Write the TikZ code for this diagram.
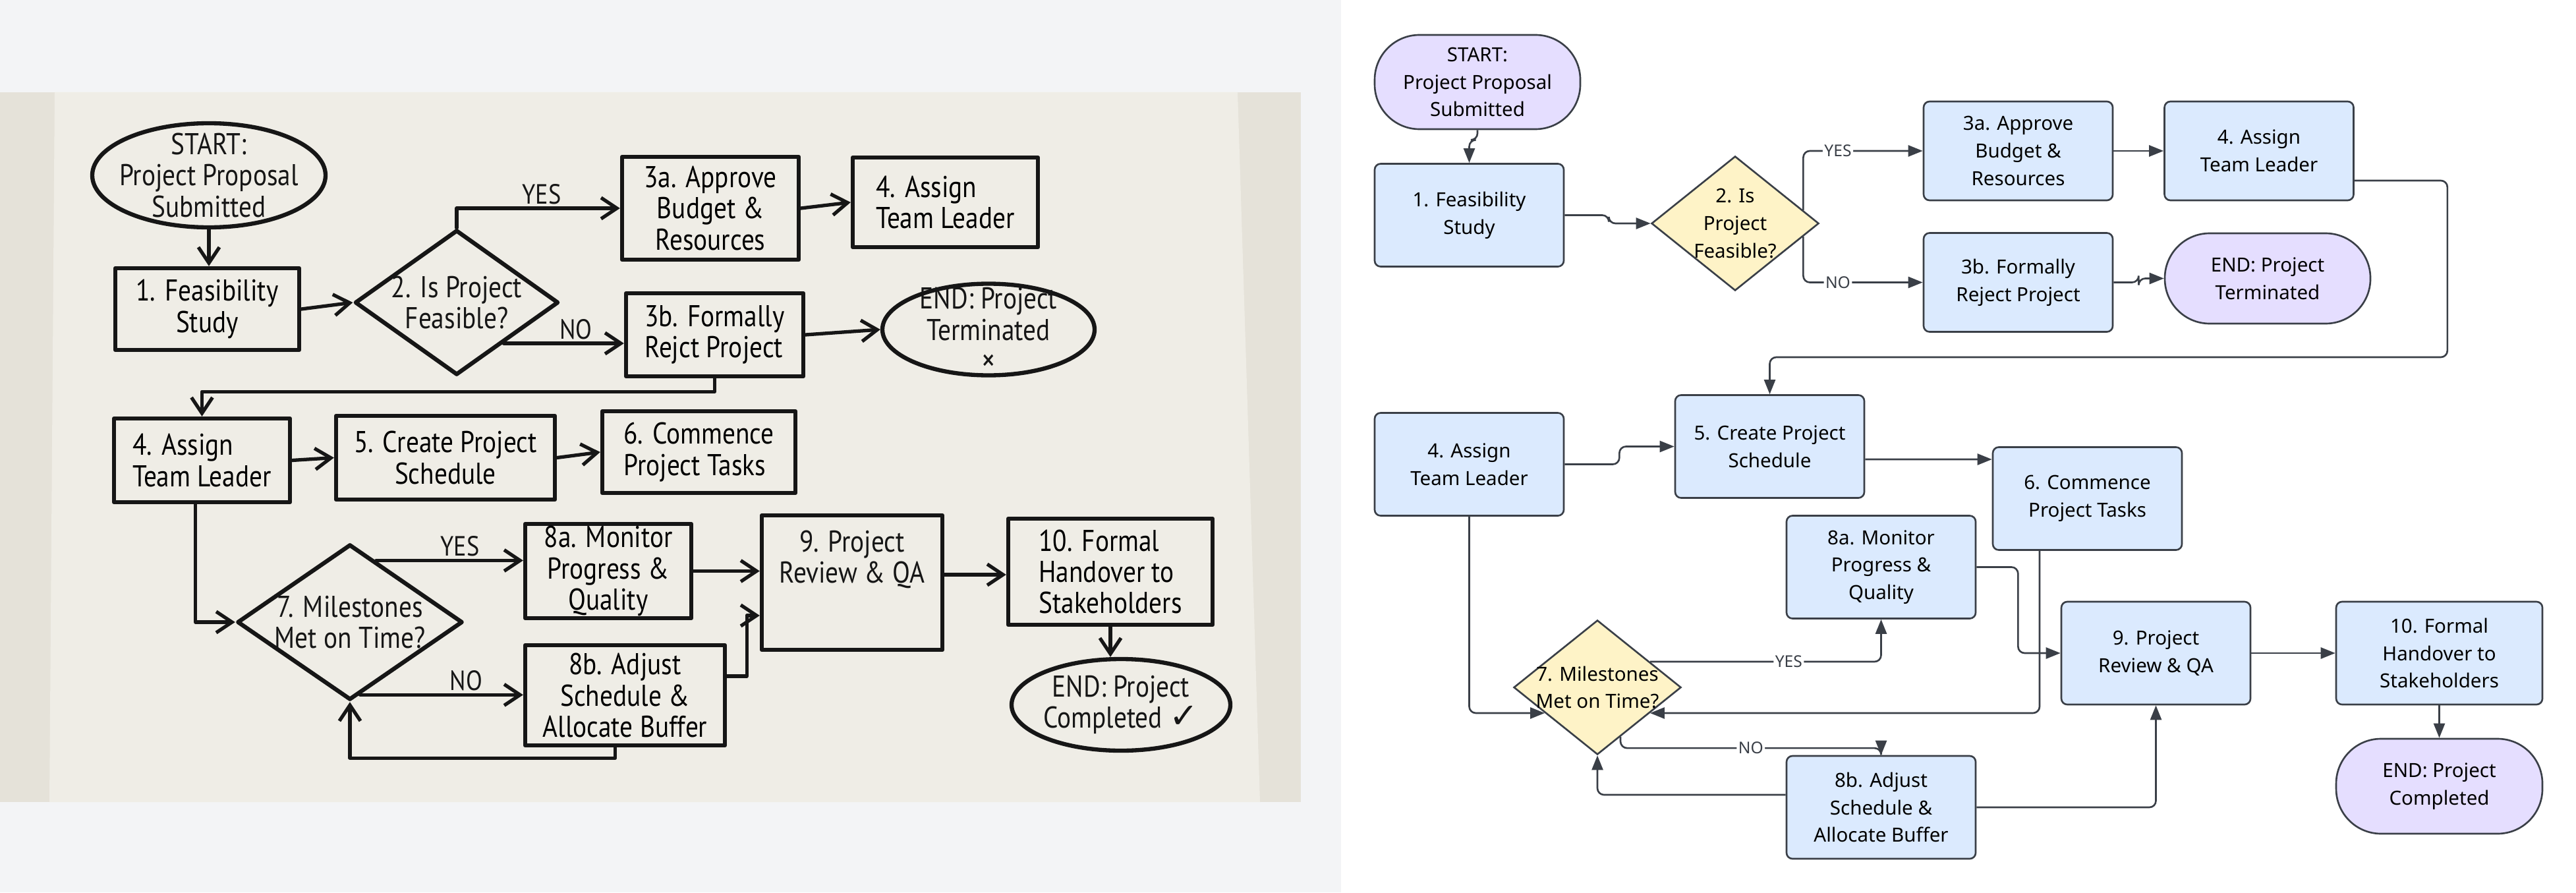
\documentclass[tikz,border=0pt]{standalone}
\usepackage{fontspec}
\setmainfont{Noto Sans}
\newfontfamily\handfont[FakeStretch=0.86]{PT Sans}
\newfontfamily\symfont{DejaVu Sans}
\usepackage{xcolor}
\usetikzlibrary{arrows.meta,positioning,shapes.geometric,shapes.misc,calc}

\definecolor{panelgrey}{RGB}{243,244,246}
\definecolor{tablebg}{RGB}{229,226,217}
\definecolor{paper}{RGB}{239,237,230}
\definecolor{ink}{RGB}{22,22,22}
\definecolor{boxblue}{RGB}{219,234,254}
\definecolor{lilac}{RGB}{229,222,255}
\definecolor{decyellow}{RGB}{254,243,199}
\definecolor{edgegrey}{RGB}{58,63,71}

\begin{document}
\begin{tikzpicture}[
  >={Triangle[length=2.2mm,width=1.7mm]},
  proc/.style={draw=edgegrey,line width=0.75pt,rectangle,rounded corners=0.9mm,fill=boxblue,
    minimum width=2.87cm,minimum height=1.56cm,align=center,inner sep=1mm,
    font=\fontsize{8.4}{11.9}\selectfont},
  stadium/.style={proc,rounded corners=0.68cm,fill=lilac,minimum width=3.12cm,minimum height=1.43cm},
  decision/.style={draw=edgegrey,line width=0.75pt,diamond,fill=decyellow,inner sep=0pt,
    minimum width=2.54cm,minimum height=2.04cm},
  dlab/.style={align=center,inner sep=0pt,font=\fontsize{8.4}{11.9}\selectfont},
  conn/.style={->,draw=edgegrey,line width=0.75pt,rounded corners=1mm},
  tag/.style={fill=white,inner sep=0.7pt,text=edgegrey,font=\fontsize{7}{7}\selectfont\bfseries},
  hbox/.style={draw=ink,line width=1.8pt,line join=round,rectangle,align=center,inner sep=0pt,
    font=\handfont\fontsize{13}{13.5}\selectfont},
  hoval/.style={hbox,ellipse},
  hdiam/.style={hbox,diamond},
  hlab/.style={align=center,inner sep=0pt,text=ink,font=\handfont\fontsize{13}{13.5}\selectfont},
  htag/.style={text=ink,inner sep=1pt,font=\handfont\fontsize{12}{12}\selectfont},
  hconn/.style={draw=ink,line width=1.5pt,line cap=round,line join=round,
    -{Straight Barb[length=2.4mm,width=3.2mm]}}]

\useasboundingbox (0,0) rectangle (39.09,-13.54);

% backdrop: grey panel, photo of the sheet, white panel
\fill[panelgrey] (0,0) rectangle (20.35,-13.54);
\fill[tablebg] (0,-1.40) rectangle (19.74,-12.17);
\fill[paper] (0.83,-1.40) -- (18.78,-1.40) -- (19.12,-12.17) -- (0.75,-12.17) -- cycle;
\fill[white] (20.35,0) rectangle (39.09,-13.54);

% hand drawn sketch
\node[hoval,minimum width=3.54cm,minimum height=1.58cm,
  label={[hlab]center:{START:\\Project Proposal\\Submitted}}] (hstart) at (3.17,-2.66) {};
\node[hbox,minimum width=2.79cm,minimum height=1.24cm] (hfeas) at (3.145,-4.69) {1. Feasibility\\Study};
\node[hdiam,minimum width=3.09cm,minimum height=2.2cm,
  label={[hlab]center:2. Is Project\\Feasible?}] (hisf) at (6.93,-4.59) {};
\node[hbox,minimum width=2.68cm,minimum height=1.56cm] (happr) at (10.78,-3.16) {3a. Approve\\Budget \&\\Resources};
\node[hbox,align=left,minimum width=2.81cm,minimum height=1.36cm] (hlead) at (14.345,-3.07) {4. Assign\\Team Leader};
\node[hbox,align=left,minimum width=2.69cm,minimum height=1.26cm] (hrej) at (10.845,-5.08) {3b. Formally\\Rejct Project};
\node[hoval,minimum width=3.22cm,minimum height=1.39cm,
  label={[hlab]center:{END: Project\\Terminated\\[0pt]{\fontsize{14}{14}\selectfont ×}}}] (hstop) at (15.0,-5.0) {};
\node[hbox,align=left,minimum width=2.67cm,minimum height=1.27cm] (hlead2) at (3.065,-6.985) {4. Assign\\Team Leader};
\node[hbox,minimum width=3.32cm,minimum height=1.27cm] (hsched) at (6.76,-6.945) {5. Create Project\\Schedule};
\node[hbox,align=left,minimum width=2.93cm,minimum height=1.24cm] (htasks) at (10.605,-6.86) {6. Commence\\Project Tasks};
\node[hdiam,minimum width=3.42cm,minimum height=2.36cm,
  label={[hlab]center:7. Milestones\\Met on Time?}] (hmile) at (5.31,-9.44) {};
\node[hbox,minimum width=2.52cm,minimum height=1.43cm] (hmon) at (9.23,-8.665) {8a. Monitor\\Progress \&\\Quality};
\node[hbox,minimum width=3.03cm,minimum height=1.52cm] (hadj) at (9.485,-10.55) {8b. Adjust\\Schedule \&\\Allocate Buffer};
\node[hbox,minimum width=2.74cm,minimum height=2.04cm,
  label={[hlab,anchor=north,yshift=-2.5mm]north:{9. Project\\Review \& QA}}] (hrev) at (12.93,-8.84) {};
\node[hbox,align=left,minimum width=3.1cm,minimum height=1.61cm] (hhand) at (16.85,-8.675) {10. Formal\\Handover to\\Stakeholders};
\node[hoval,minimum width=3.32cm,minimum height=1.39cm,
  label={[hlab]center:{END: Project\\Completed {\symfont\fontsize{15}{15}\selectfont ✓}}}] (hdone) at (17.01,-10.695) {};

\draw[hconn] (hstart.south) -- (hstart.south |- hfeas.north);
\draw[hconn] (hfeas.east) -- (hisf.west);
\draw[hconn] (hisf.north) |- node[htag,above,pos=0.76] {YES} (happr.west);
\draw[hconn] (hisf.-41.6) -- node[htag,above,pos=0.6] {NO} (hisf.-41.6 -| hrej.west);
\draw[hconn] (happr.east) -- (hlead.west);
\draw[hconn] (hrej.east) -- (hstop.west);
\draw[hconn] (hrej.south) -- ++(0,-0.2) -| (hlead2.north);
\draw[hconn] (hlead2.east) -- (hsched.west);
\draw[hconn] (hsched.east) -- (htasks.west);
\draw[hconn] ($(hlead2.south)+(-0.1,0)$) |- (hmile.west);
\draw[hconn] (hmile.67.7) -- node[htag,above,pos=0.57] {YES} (hmile.67.7 -| hmon.west);
\draw[hconn] (hmile.-82) -- node[htag,above,pos=0.65] {NO} (hmile.-82 -| hadj.west);
\draw[hconn] ($(hadj.south)+(-0.15,0)$) -- ++(0,-0.16) -| (hmile.south);
\draw[hconn] (hmon.east) -- (hmon.east -| hrev.west);
\draw[hconn] ($(hadj.east)+(0,0.29)$) -- ++(0.3,0) |- ($(hrev.west)+(0,-0.5)$);
\draw[hconn] ($(hrev.east)+(0,0.12)$) -- ($(hhand.west)+(0,-0.045)$);
\draw[hconn] (hhand.south) -- (hhand.south |- hdone.north);

% clean redraw
\node[stadium] (start) at (22.42,-1.245) {START:\\Project Proposal\\Submitted};
\node[proc] (feas) at (22.295,-3.265) {1. Feasibility\\Study};
\node[decision,label={[dlab]center:2. Is\\Project\\Feasible?}] (isfeas) at (26.33,-3.39) {};
\node[proc,minimum height=1.5cm] (appr) at (30.625,-2.29) {3a. Approve\\Budget \&\\Resources};
\node[proc,minimum height=1.5cm] (lead) at (34.28,-2.29) {4. Assign\\Team Leader};
\node[proc,minimum height=1.5cm] (rej) at (30.625,-4.285) {3b. Formally\\Reject Project};
\node[stadium,minimum height=1.37cm] (stop) at (34.41,-4.225) {END: Project\\Terminated};
\node[proc] (lead2) at (22.295,-7.045) {4. Assign\\Team Leader};
\node[proc] (sched) at (26.855,-6.775) {5. Create Project\\Schedule};
\node[proc] (tasks) at (31.675,-7.565) {6. Commence\\Project Tasks};
\node[proc] (mon) at (28.545,-8.605) {8a. Monitor\\Progress \&\\Quality};
\node[decision,label={[dlab]center:7. Milestones\\Met on Time?}] (mile) at (24.24,-10.43) {};
\node[proc] (adj) at (28.545,-12.25) {8b. Adjust\\Schedule \&\\Allocate Buffer};
\node[proc] (rev) at (32.715,-9.91) {9. Project\\Review \& QA};
\node[proc,minimum width=3.13cm] (hand) at (37.015,-9.91) {10. Formal\\Handover to\\Stakeholders};
\node[stadium,minimum width=3.13cm,minimum height=1.44cm] (done) at (37.015,-11.93) {END: Project\\Completed};

\draw[conn] (start.south) -- ++(0,-0.15) -| (feas.north);
\draw[conn] (feas.east) -- ++(0.67,0) |- (isfeas.west);
\draw[conn] (isfeas.11) |- node[tag,pos=0.645] {YES} (appr.west);
\draw[conn] (isfeas.-11) |- node[tag,pos=0.645] {NO} (rej.west);
\draw[conn] (appr.east) -- (lead.west);
\draw[conn] (rej.east) -- ++(0.38,0) |- (stop.west);
\draw[conn] ($(lead.east)+(0,-0.45)$) -- ++(1.41,0) -- ++(0,-2.68) -| (sched.north);
\draw[conn] (lead2.east) -- ++(0.83,0) |- (sched.west);
\draw[conn] ($(sched.east)+(0,-0.195)$) -- ($(tasks.west)+(0,0.595)$);
\draw[conn] (lead2.south) |- (mile.206.6);
\draw[conn] ($(tasks.south)+(-0.725,0)$) |- (mile.-26.6);
\draw[conn] (mile.26.6) -| node[tag,pos=0.3] {YES} (mon.south);
\draw[conn] (mile.295) -- ++(0,-0.17) -| node[tag,pos=0.25] {NO} (adj.north);
\draw[conn] ($(adj.west)+(0,0.19)$) -| (mile.south);
\draw[conn] (mon.east) -- ++(0.63,0) |- (rev.west);
\draw[conn] (adj.east) -| (rev.south);
\draw[conn] (rev.east) -- (hand.west);
\draw[conn] (hand.south) -- (done.north);
\end{tikzpicture}
\end{document}
